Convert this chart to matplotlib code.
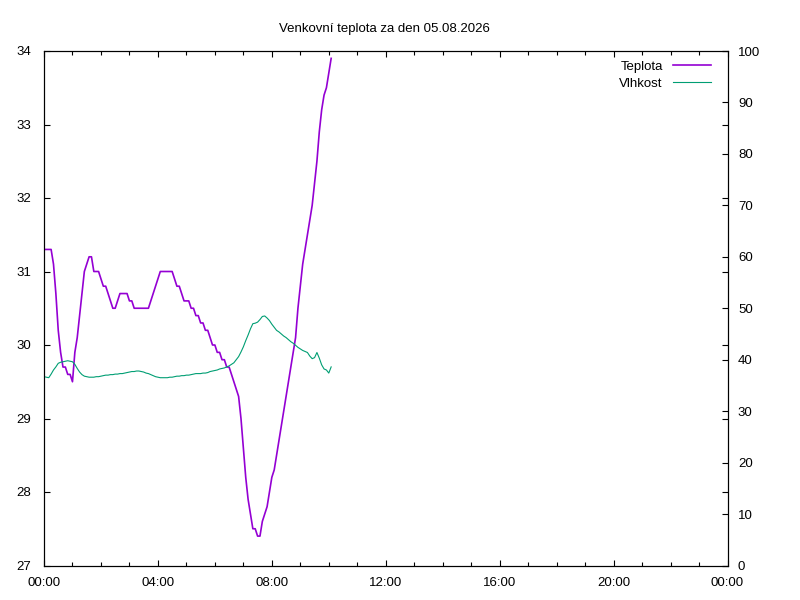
import numpy as np
import matplotlib.pyplot as plt
from matplotlib.ticker import MultipleLocator, FuncFormatter

plt.rcParams['font.family'] = ['Liberation Sans', 'DejaVu Sans']
plt.rcParams['font.size'] = 9.5

title = 'Venkovní teplota za den 05.08.2026'

# samples every 5 minutes from 00:00
minutes = np.arange(0, 610, 5)

# Teplota (left axis, deg C)
teplota = [
    31.3, 31.3, 31.3, 31.3, 31.1, 30.7, 30.2, 29.9, 29.7, 29.7, 29.6, 29.6,
    29.5, 29.9, 30.1, 30.4, 30.7, 31.0, 31.1, 31.2, 31.2, 31.0, 31.0, 31.0,
    30.9, 30.8, 30.8, 30.7, 30.6, 30.5, 30.5, 30.6, 30.7, 30.7, 30.7, 30.7,
    30.6, 30.6, 30.5, 30.5, 30.5, 30.5, 30.5, 30.5, 30.5, 30.6, 30.7, 30.8,
    30.9, 31.0, 31.0, 31.0, 31.0, 31.0, 31.0, 30.9, 30.8, 30.8, 30.7, 30.6,
    30.6, 30.6, 30.5, 30.5, 30.4, 30.4, 30.3, 30.3, 30.2, 30.2, 30.1, 30.0,
    30.0, 29.9, 29.9, 29.8, 29.8, 29.7, 29.7, 29.6, 29.5, 29.4, 29.3, 29.0,
    28.6, 28.2, 27.9, 27.7, 27.5, 27.5, 27.4, 27.4, 27.6, 27.7, 27.8, 28.0,
    28.2, 28.3, 28.5, 28.7, 28.9, 29.1, 29.3, 29.5, 29.7, 29.9, 30.1, 30.5,
    30.8, 31.1, 31.3, 31.5, 31.7, 31.9, 32.2, 32.5, 32.9, 33.2, 33.4, 33.5,
    33.7, 33.9,
]

# Vlhkost (right axis, %)
vlhkost = [
    36.7, 36.6, 36.5, 37.2, 38.0, 38.6, 39.3, 39.5, 39.6, 39.7, 39.8, 39.7,
    39.6, 39.1, 38.3, 37.6, 37.1, 36.8, 36.7, 36.6, 36.6, 36.6, 36.7, 36.7,
    36.8, 36.9, 37.0, 37.0, 37.1, 37.1, 37.2, 37.2, 37.3, 37.3, 37.4, 37.5,
    37.6, 37.7, 37.7, 37.8, 37.8, 37.7, 37.6, 37.4, 37.3, 37.1, 36.9, 36.7,
    36.6, 36.5, 36.5, 36.5, 36.5, 36.6, 36.6, 36.7, 36.8, 36.8, 36.9, 36.9,
    37.0, 37.0, 37.1, 37.2, 37.3, 37.3, 37.3, 37.4, 37.4, 37.5, 37.7, 37.8,
    37.9, 38.0, 38.2, 38.3, 38.4, 38.6, 38.8, 39.1, 39.4, 40.0, 40.6, 41.5,
    42.5, 43.7, 44.8, 46.0, 47.0, 47.1, 47.3, 47.8, 48.4, 48.5, 48.1, 47.6,
    46.9, 46.3, 45.7, 45.4, 45.0, 44.6, 44.3, 43.9, 43.5, 43.2, 42.8, 42.4,
    42.1, 41.8, 41.6, 41.4, 40.7, 40.2, 40.4, 41.4, 40.3, 39.0, 38.2, 38.0,
    37.4, 38.6,
]

hours = minutes / 60.0

fig = plt.figure(figsize=(8, 6), dpi=100)
ax = fig.add_axes([44 / 800, 1 - 565.5 / 600, (727.5 - 44) / 800, (565.5 - 51) / 600])
ax2 = ax.twinx()

l1, = ax.plot(hours, teplota, color='#9400d3', lw=1.2, label='Teplota')
l2, = ax2.plot(hours, vlhkost, color='#009e73', lw=0.8, label='Vlhkost')

ax.set_xlim(0, 24)
ax.set_ylim(27, 34)
ax2.set_ylim(0, 100)

ax.xaxis.set_major_locator(MultipleLocator(4))
ax.xaxis.set_minor_locator(MultipleLocator(1))
ax.xaxis.set_major_formatter(FuncFormatter(lambda v, p: '%02d:00' % (int(round(v)) % 24)))
ax.yaxis.set_major_locator(MultipleLocator(1))
ax2.yaxis.set_major_locator(MultipleLocator(10))

ax.tick_params(axis='x', which='major', direction='in', length=4.3, width=0.8, top=True, pad=8)
ax.tick_params(axis='x', which='minor', direction='in', length=2.6, width=0.8, top=True)
ax.tick_params(axis='y', direction='in', length=4.3, width=0.8, right=True, labelright=False, pad=9)
ax2.tick_params(axis='y', direction='in', length=4.3, width=0.8, pad=7.5)

for a in (ax, ax2):
    for s in a.spines.values():
        s.set_linewidth(0.8)

ax.legend(handles=[l1, l2], loc='upper right', bbox_to_anchor=(0.992, 1.002),
          frameon=False, markerfirst=False, handlelength=2.95, handletextpad=0.75,
          labelspacing=0.35, borderpad=0.3)

fig.text(384 / 800, 1 - 32.3 / 600, title, ha='center', va='baseline')

fig.savefig('out.png', dpi=100)
